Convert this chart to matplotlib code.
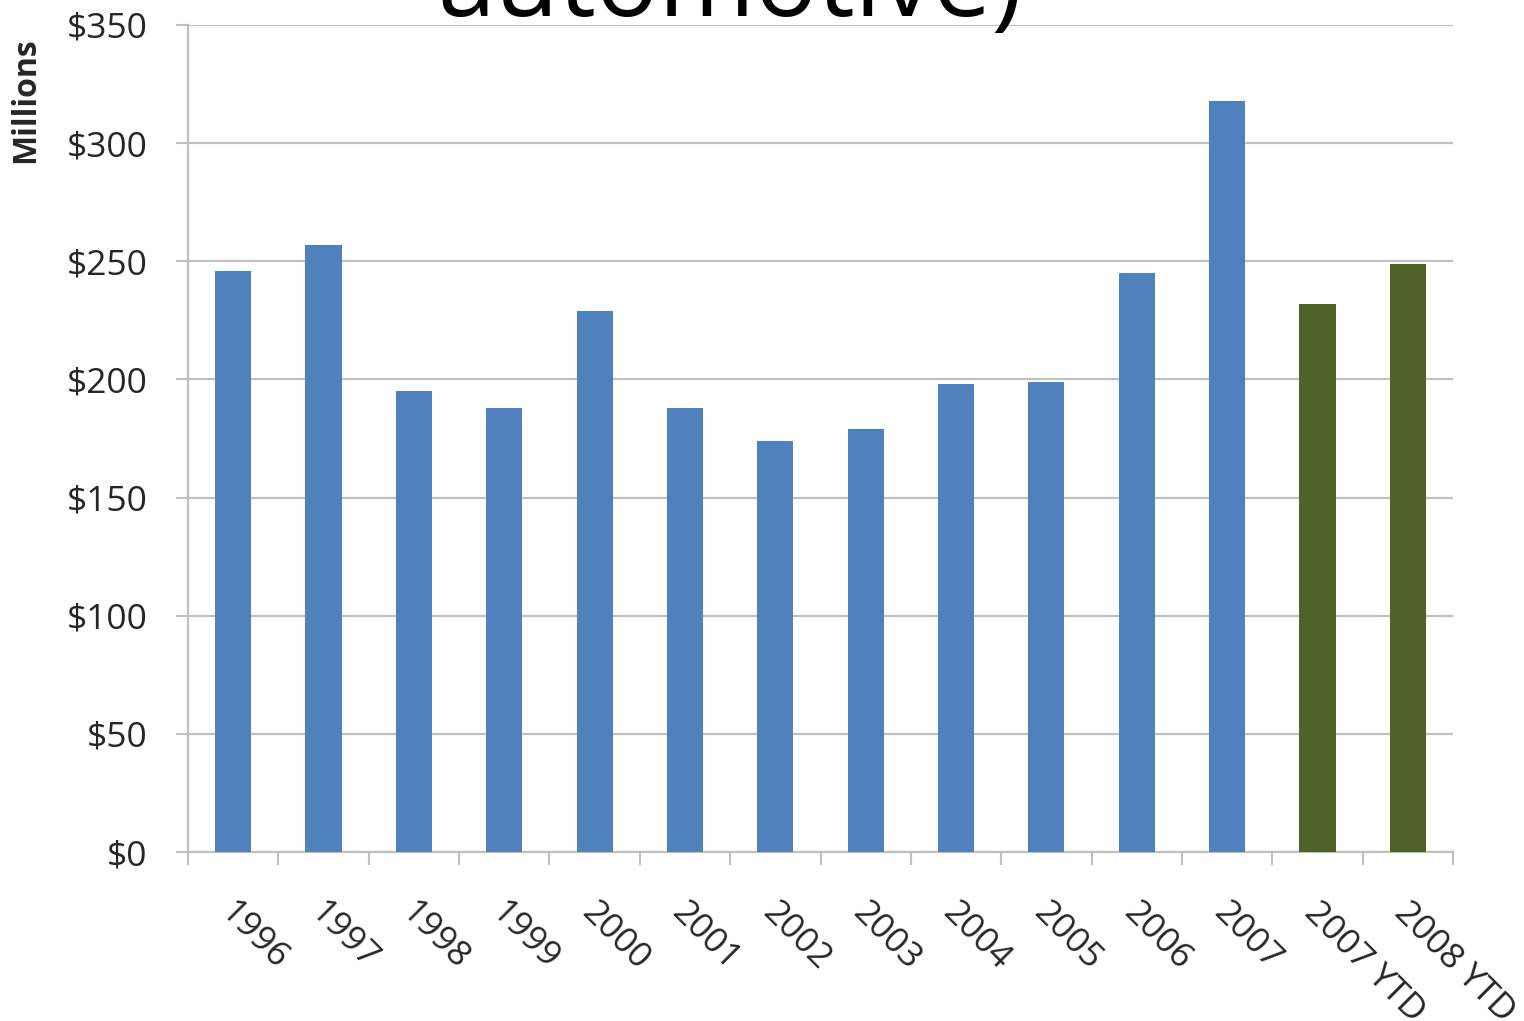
import matplotlib
matplotlib.use("Agg")
import matplotlib.pyplot as plt
import numpy as np

# Annual values, millions of dollars
categories = ["1996", "1997", "1998", "1999", "2000", "2001", "2002", "2003",
              "2004", "2005", "2006", "2007", "2007 YTD", "2008 YTD"]
values = [246, 257, 195, 188, 229, 188, 174, 179, 198, 199, 245, 318, 232, 249]
is_ytd = [False] * 12 + [True, True]

y_ticks = [0, 50, 100, 150, 200, 250, 300, 350]
y_tick_labels = ["$" + str(v) for v in y_ticks]

BLUE = "#4F81BD"
GREEN = "#4F6228"
GRID = "#C0C0C0"
TEXT = "#262626"

plt.rcParams["font.family"] = ["Open Sans", "DejaVu Sans"]

fig = plt.figure(figsize=(15.24, 10.21), dpi=100)
ax = fig.add_axes([188 / 1524, 169 / 1021, (1453 - 188) / 1524, (852 - 25) / 1021])

x = np.arange(len(categories))
colors = [GREEN if y else BLUE for y in is_ytd]
ax.bar(x, values, width=0.4, color=colors, zorder=3)

ax.set_xlim(-0.5, len(categories) - 0.5)
ax.set_ylim(0, 350)

ax.set_yticks(y_ticks)
ax.set_yticklabels(y_tick_labels, fontsize=25.5, color=TEXT)
ax.yaxis.grid(True, color=GRID, linewidth=1.6, zorder=0)
ax.set_axisbelow(True)

# category boundary ticks on the x axis
ax.set_xticks(np.arange(-0.5, len(categories) + 0.5, 1.0))
ax.set_xticklabels([])
ax.tick_params(axis="x", length=9, width=1.5, color=GRID, direction="out")
ax.tick_params(axis="y", length=9, width=1.5, color=GRID, direction="out", pad=20)

for side in ("top", "right"):
    ax.spines[side].set_visible(False)
for side in ("left", "bottom"):
    ax.spines[side].set_color(GRID)
    ax.spines[side].set_linewidth(1.6)

# rotated category labels
for xi, lab in zip(x, categories):
    ax.annotate(lab, xy=(xi, 0), xycoords="data", xytext=(4, -44),
                textcoords="offset pixels", rotation=-45, ha="left", va="top",
                rotation_mode="anchor", fontsize=25.5, color=TEXT)

fig.text(26 / 1524, 1 - 100 / 1021, "Millions", rotation=90, ha="center", va="center",
         fontsize=23, fontweight="bold", color=TEXT)

fig.text(730 / 1524, 1 - 16 / 1021, "automotive)", ha="center", va="baseline",
         fontsize=75, color="black")

fig.savefig("out.png", dpi=100)
